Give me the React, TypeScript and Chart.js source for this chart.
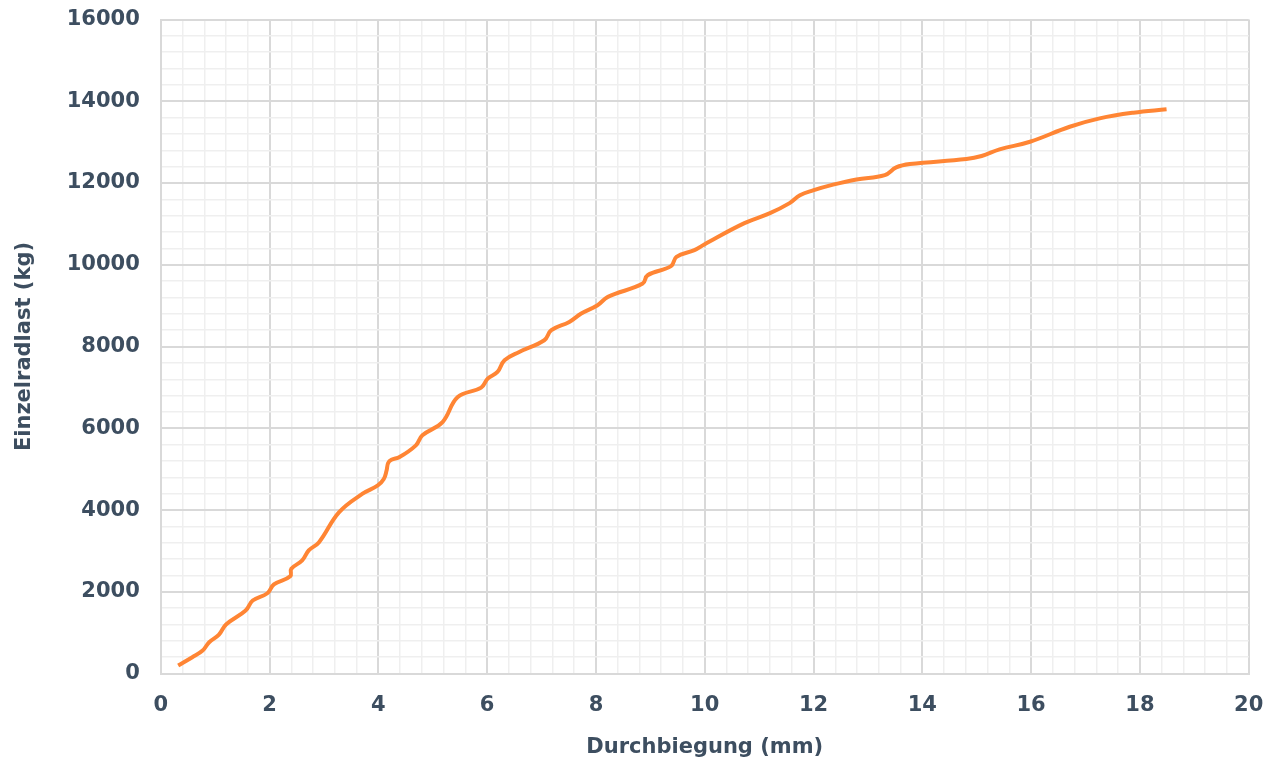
import React, { useEffect, useRef } from "react";
import { Chart, registerables } from "chart.js";

Chart.register(...registerables);

const deflectionMm = [
  0.32, 0.58, 0.77, 0.89, 1.07, 1.2, 1.56, 1.69, 1.96, 2.08, 2.38, 2.4, 2.6, 2.72, 2.91,
  3.28, 3.71, 3.99, 4.1, 4.15, 4.18, 4.24, 4.39, 4.69, 4.81, 5.18, 5.46, 5.89, 6.01, 6.19,
  6.32, 6.59, 7.05, 7.18, 7.51, 7.73, 8.03, 8.22, 8.86, 8.95, 9.38, 9.48, 9.81, 10.0,
  10.73, 11.2, 11.56, 11.75, 11.99, 12.36, 12.79, 13.31, 13.52, 13.77, 14.81, 15.09,
  15.42, 15.98, 16.71, 17.26, 17.88, 18.49,
];
const loadKg = [
  200, 400, 563, 767, 955, 1200, 1542, 1787, 1966, 2180, 2380, 2563, 2767, 3012, 3215,
  3950, 4400, 4603, 4760, 4960, 5150, 5230, 5296, 5583, 5828, 6153, 6766, 6995, 7216, 7378,
  7664, 7867, 8154, 8399, 8602, 8807, 9011, 9214, 9542, 9746, 9966, 10194, 10357, 10504,
  11018, 11263, 11508, 11700, 11820, 11960, 12088, 12194, 12382, 12463, 12586, 12660,
  12823, 13010, 13377, 13582, 13721, 13804,
];
const xMajorTicks = [0, 2, 4, 6, 8, 10, 12, 14, 16, 18, 20];
const yMajorTicks = [0, 2000, 4000, 6000, 8000, 10000, 12000, 14000, 16000];

const TEXT = "#3d4e60";
const FONT = "'DejaVu Sans', sans-serif";

export default function App() {
  const ref = useRef<HTMLCanvasElement | null>(null);
  useEffect(() => {
    document.body.style.margin = "0";
    const ctx = ref.current!;
    const isMajor = (v: number, step: number) => Math.abs(v / step - Math.round(v / step)) < 1e-6;
    const chart = new Chart(ctx, {
      type: "line",
      data: {
        datasets: [
          {
            data: deflectionMm.map((x, i) => ({ x, y: loadKg[i] })),
            borderColor: "#ff8534",
            borderWidth: 4,
            pointRadius: 0,
            tension: 0.4,
            fill: false,
          },
        ],
      },
      options: {
        animation: false,
        responsive: false,
        layout: { padding: { top: 19.5, right: 27.3, left: 11.5, bottom: 3 } },
        plugins: { legend: { display: false }, tooltip: { enabled: false } },
        scales: {
          x: {
            type: "linear",
            min: 0,
            max: 20,
            ticks: {
              stepSize: 0.4,
              autoSkip: false,
              maxRotation: 0,
              color: TEXT,
              padding: 1,
              font: { family: FONT, size: 21, weight: "bold" },
              callback: (v: any) =>
                xMajorTicks.some((t) => Math.abs(t - Number(v)) < 1e-6) ? String(Math.round(Number(v))) : "",
            },
            grid: {
              drawTicks: true,
              tickLength: 18,
              tickColor: "rgba(0,0,0,0)",
              color: (c: any) => (isMajor(c.tick.value, 2) ? "#d9d9d9" : "#efefef"),
              lineWidth: (c: any) => (isMajor(c.tick.value, 2) ? 2 : 1.5),
            },
            border: { color: "#d9d9d9", width: 2 },
            title: {
              display: true,
              text: "Durchbiegung (mm)",
              color: TEXT,
              font: { family: FONT, size: 21, weight: "bold" },
              padding: { top: 16, bottom: 0 },
            },
          },
          y: {
            type: "linear",
            min: 0,
            max: 16000,
            ticks: {
              stepSize: 400,
              autoSkip: false,
              color: TEXT,
              padding: 1,
              font: { family: FONT, size: 21, weight: "bold" },
              callback: (v: any) =>
                yMajorTicks.some((t) => Math.abs(t - Number(v)) < 1e-6) ? String(Math.round(Number(v))) : "",
            },
            grid: {
              drawTicks: true,
              tickLength: 20,
              tickColor: "rgba(0,0,0,0)",
              color: (c: any) => (isMajor(c.tick.value, 2000) ? "#d9d9d9" : "#efefef"),
              lineWidth: (c: any) => (isMajor(c.tick.value, 2000) ? 2 : 1.5),
            },
            border: { color: "#d9d9d9", width: 2 },
            title: {
              display: true,
              text: "Einzelradlast (kg)",
              color: TEXT,
              font: { family: FONT, size: 21, weight: "bold" },
              padding: { top: 0, bottom: 29 },
            },
          },
        },
      },
    });
    return () => chart.destroy();
  }, []);
  return (
    <div style={{ width: 1276, height: 763 }}>
      <canvas ref={ref} width={1276} height={763} style={{ display: "block" }} />
    </div>
  );
}
